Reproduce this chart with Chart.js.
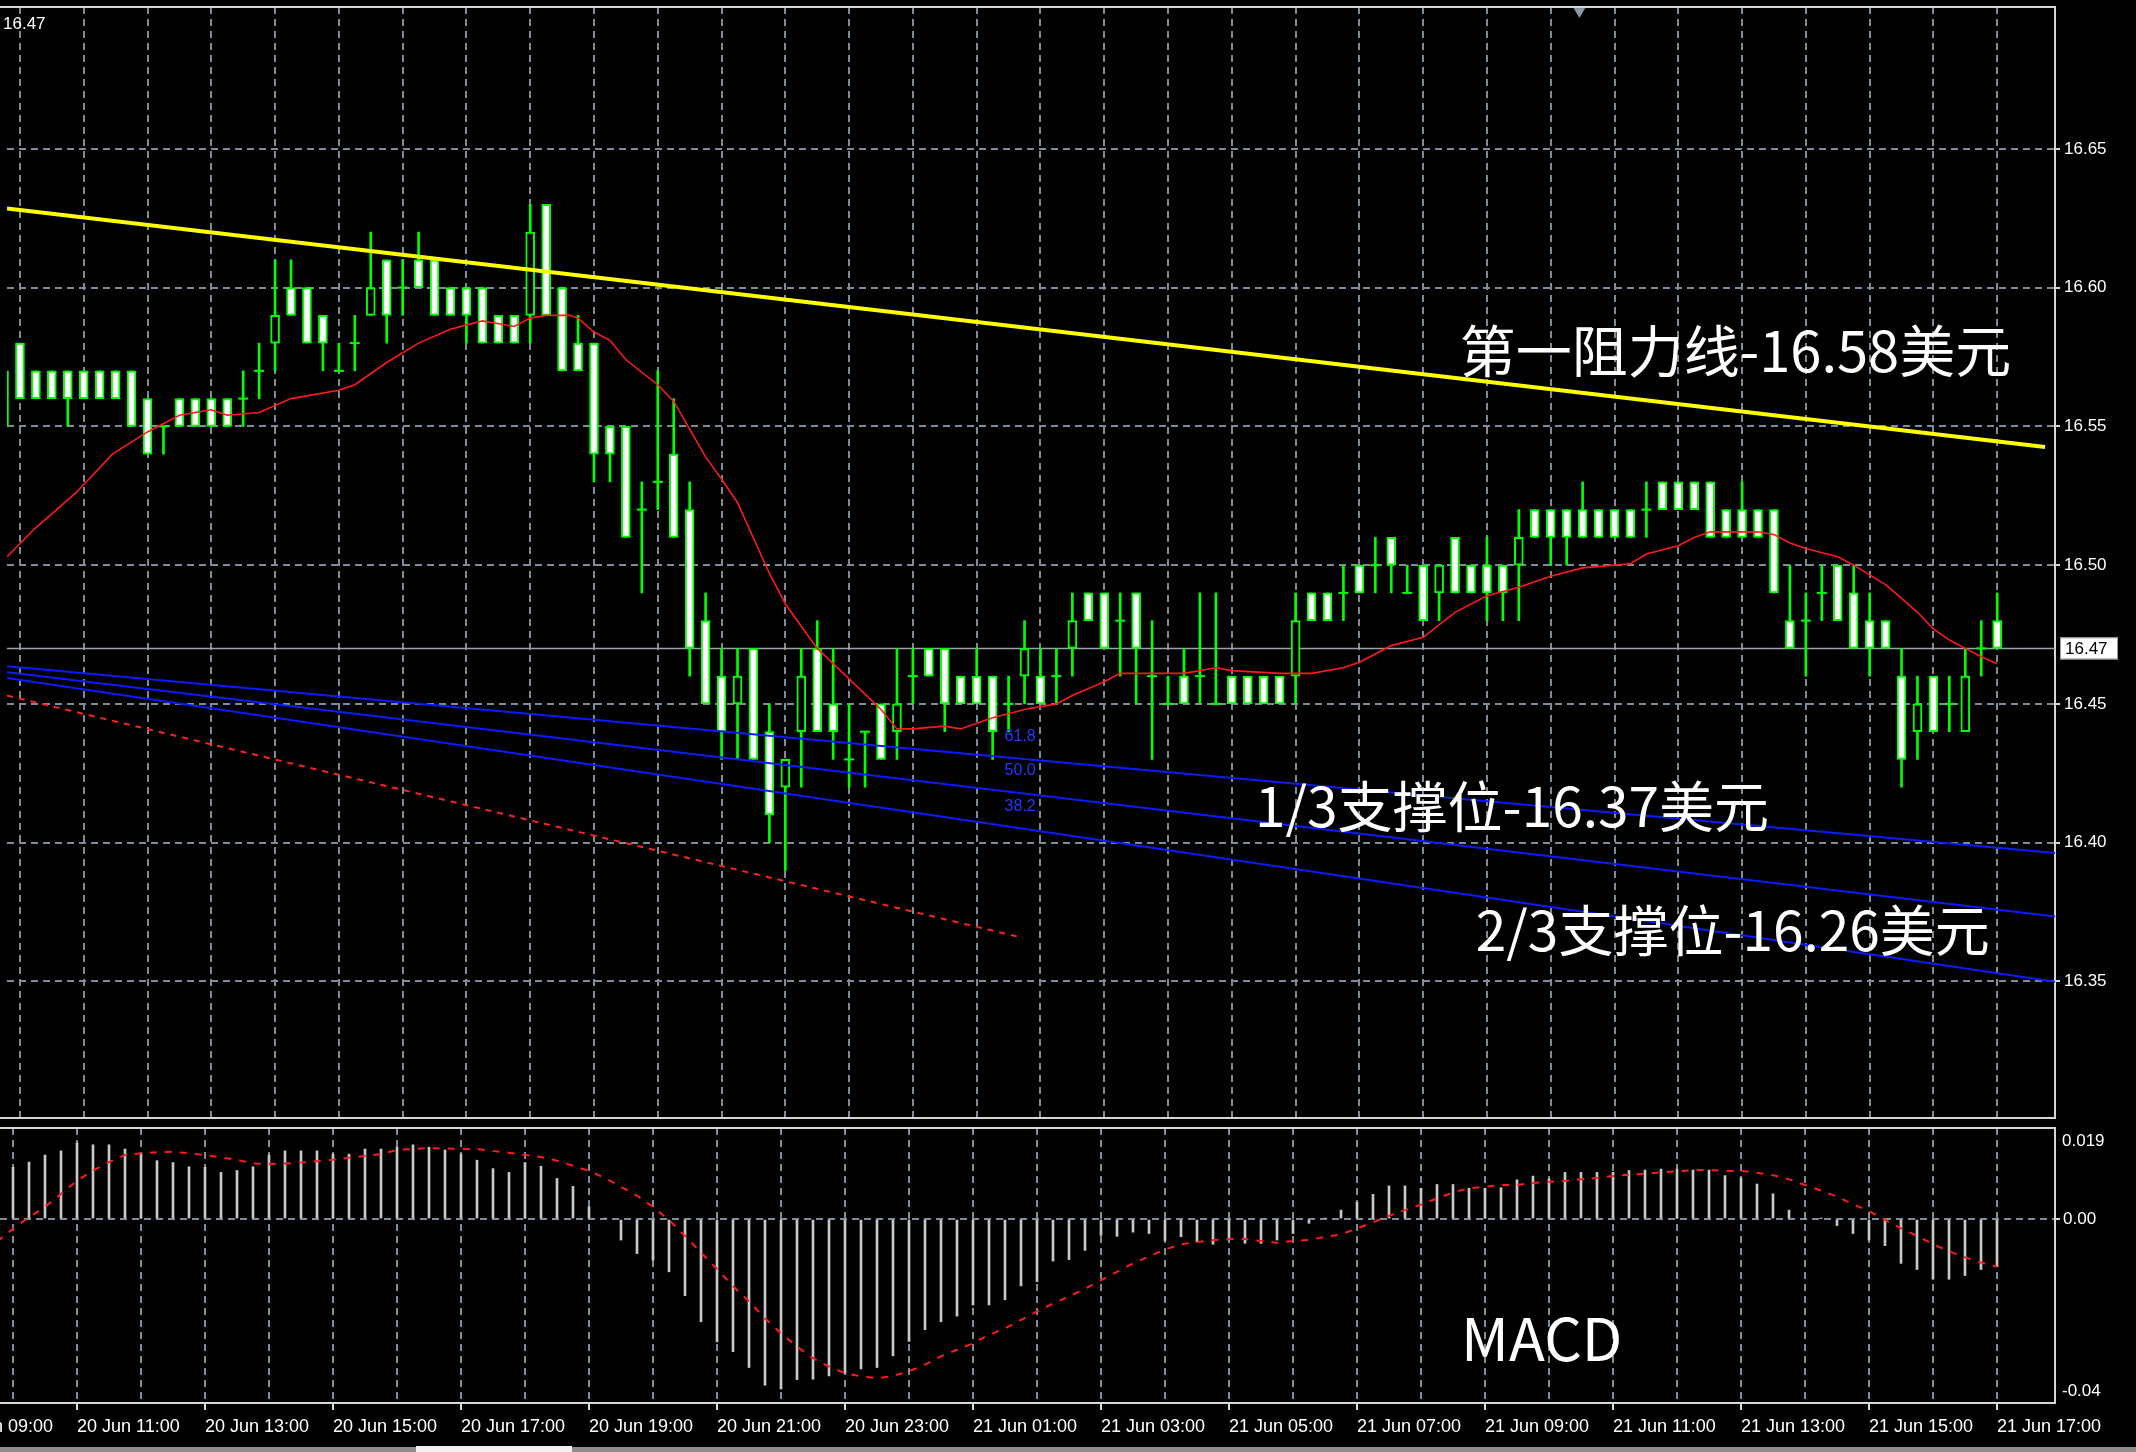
<!DOCTYPE html>
<html>
<head>
<meta charset="utf-8">
<script src="https://cdn.jsdelivr.net/npm/chart.js@4.4.1/dist/chart.umd.min.js"></script>
<style>
  html, body { margin:0; padding:0; background:#000; width:2136px; height:1452px; overflow:hidden; }
  #main { position:absolute; left:0; top:0; }
  #macd { position:absolute; left:0; top:1124px; }
  #tabbar { position:absolute; left:0; top:1447px; width:2136px; height:5px; background:#8e8e8e; }
  #tabsel { position:absolute; left:416px; top:1446px; width:156px; height:6px; background:#f2f2f2; }
</style>
</head>
<body>
<canvas id="main" width="2136" height="1125"></canvas>
<canvas id="macd" width="2136" height="328"></canvas>
<div id="tabbar"></div><div id="tabsel"></div>
<script>
// ---------------- DATA ----------------
// 15-minute candles, index 0 = 20 Jun 09:45 ... index 125 = 21 Jun 17:00
const opens = [
  16.57,16.58,16.57,16.57,16.57,16.57,16.57,16.57,16.57,16.56,
  16.55,16.56,16.56,16.56,16.56,16.56,16.57,16.58,16.60,16.60,
  16.59,16.57,16.58,16.59,16.61,16.60,16.61,16.61,16.60,16.60,
  16.60,16.59,16.59,16.59,16.63,16.60,16.58,16.58,16.55,16.55,
  16.52,16.53,16.54,16.52,16.48,16.46,16.45,16.47,16.44,16.42,
  16.44,16.47,16.45,16.43,16.44,16.45,16.44,16.46,16.47,16.47,
  16.46,16.46,16.46,16.45,16.46,16.46,16.46,16.47,16.49,16.49,
  16.48,16.49,16.46,16.45,16.46,16.46,16.45,16.46,16.46,16.46,
  16.46,16.46,16.49,16.49,16.49,16.50,16.50,16.51,16.49,16.50,
  16.49,16.51,16.50,16.50,16.50,16.50,16.52,16.52,16.52,16.52,
  16.52,16.52,16.52,16.52,16.53,16.53,16.53,16.53,16.52,16.52,
  16.52,16.52,16.48,16.48,16.49,16.50,16.49,16.48,16.48,16.46,
  16.44,16.46,16.45,16.44,16.47,16.48
];
const highs = [
  16.57,16.58,16.57,16.57,16.57,16.57,16.57,16.57,16.57,16.56,
  16.55,16.56,16.56,16.56,16.56,16.57,16.58,16.61,16.61,16.60,
  16.59,16.58,16.59,16.62,16.61,16.61,16.62,16.61,16.60,16.60,
  16.60,16.59,16.59,16.63,16.63,16.60,16.59,16.58,16.55,16.55,
  16.53,16.57,16.56,16.53,16.49,16.47,16.47,16.47,16.45,16.43,
  16.47,16.48,16.47,16.45,16.44,16.45,16.47,16.47,16.47,16.47,
  16.46,16.47,16.46,16.46,16.48,16.47,16.47,16.49,16.49,16.49,
  16.49,16.49,16.48,16.46,16.47,16.49,16.49,16.46,16.46,16.46,
  16.46,16.49,16.49,16.49,16.50,16.50,16.51,16.51,16.50,16.50,
  16.50,16.51,16.50,16.51,16.50,16.52,16.52,16.52,16.52,16.53,
  16.52,16.52,16.52,16.53,16.53,16.53,16.53,16.53,16.52,16.53,
  16.52,16.52,16.50,16.49,16.50,16.50,16.50,16.49,16.48,16.47,
  16.46,16.46,16.46,16.47,16.48,16.49
];
const lows = [
  16.55,16.56,16.56,16.56,16.55,16.56,16.56,16.56,16.55,16.54,
  16.54,16.55,16.55,16.55,16.55,16.55,16.56,16.57,16.59,16.58,
  16.57,16.57,16.57,16.59,16.58,16.59,16.60,16.59,16.59,16.58,
  16.58,16.58,16.58,16.58,16.59,16.57,16.57,16.53,16.53,16.51,
  16.49,16.52,16.51,16.46,16.45,16.43,16.43,16.43,16.40,16.39,
  16.42,16.44,16.43,16.42,16.42,16.43,16.43,16.45,16.46,16.44,
  16.45,16.45,16.43,16.44,16.45,16.45,16.45,16.46,16.48,16.47,
  16.46,16.45,16.43,16.45,16.45,16.45,16.45,16.45,16.45,16.45,
  16.45,16.45,16.48,16.48,16.48,16.49,16.49,16.49,16.49,16.48,
  16.48,16.49,16.49,16.48,16.48,16.48,16.51,16.50,16.50,16.51,
  16.51,16.51,16.51,16.51,16.52,16.52,16.52,16.51,16.51,16.51,
  16.51,16.49,16.47,16.46,16.48,16.48,16.47,16.46,16.47,16.42,
  16.43,16.44,16.44,16.44,16.46,16.47
];
const closes = [
  16.55,16.56,16.56,16.56,16.56,16.56,16.56,16.56,16.55,16.54,
  16.55,16.55,16.55,16.55,16.55,16.56,16.57,16.59,16.59,16.58,
  16.58,16.57,16.58,16.60,16.59,16.60,16.60,16.59,16.59,16.59,
  16.58,16.58,16.58,16.62,16.59,16.57,16.57,16.54,16.54,16.51,
  16.52,16.53,16.51,16.47,16.45,16.44,16.46,16.43,16.41,16.43,
  16.46,16.44,16.44,16.43,16.44,16.43,16.45,16.46,16.46,16.45,
  16.45,16.45,16.44,16.45,16.47,16.45,16.46,16.48,16.48,16.47,
  16.48,16.47,16.46,16.45,16.45,16.46,16.45,16.45,16.45,16.45,
  16.45,16.48,16.48,16.48,16.49,16.49,16.50,16.50,16.49,16.48,
  16.50,16.49,16.49,16.49,16.49,16.51,16.51,16.51,16.51,16.51,
  16.51,16.51,16.51,16.52,16.52,16.52,16.52,16.51,16.51,16.51,
  16.51,16.49,16.47,16.48,16.49,16.48,16.47,16.47,16.47,16.43,
  16.45,16.44,16.45,16.46,16.47,16.47
];

// red moving average, read at these candle positions
const maIdx = [0.19,1.9,4.5,6.8,9,11,13,14,16,18,21,22,24,26,28,30,32,33,34,35.5,
  36,37,38,39,41,42,43,44,45,46,48,49,51,53,55,56,57,59,60,61,
  62,64,66,67,69,70,72,74,76,77,80,82,84,85,86,87,89,91,93,95,
  97,99,101,102,103,105,106,107,108,110,111,112,113,115,116,118,119,120,121,122,
  123,124,125];
const maVal = [16.503,16.513,16.526,16.54,16.548,16.554,16.556,16.554,16.555,16.56,
  16.563,16.565,16.573,16.58,16.585,16.588,16.586,16.589,16.59,16.59,
  16.589,16.584,16.581,16.574,16.565,16.559,16.549,16.539,16.531,16.5225,
  16.497,16.486,16.47,16.459,16.448,16.441,16.441,16.442,16.441,16.443,
  16.445,16.448,16.45,16.453,16.458,16.461,16.461,16.461,16.463,16.462,
  16.461,16.461,16.463,16.465,16.468,16.471,16.474,16.483,16.489,16.492,
  16.496,16.499,16.50,16.5005,16.504,16.507,16.51,16.512,16.512,16.512,
  16.511,16.508,16.506,16.503,16.50,16.493,16.488,16.483,16.477,16.473,
  16.47,16.467,16.4645];

// drawn lines: [startIdx, startPrice, endIdx, endPrice]
const resistanceLine = [0.19, 16.6285, 128.0, 16.5426];
const fibLine618 = [0.19, 16.4636, 128.63, 16.3963];
const fibLine500 = [0.19, 16.4614, 128.63, 16.3734];
const fibLine382 = [0.19, 16.4593, 128.63, 16.3499];
const redDashLine = [0.19, 16.453, 63.9, 16.3657];
const currentPrice = 16.47;

// MACD histogram (index 0..125) and signal line
const macdHist = [null,0.0111,0.0122,0.0137,0.0146,0.0163,0.0159,0.0159,0.0150,0.0141,
  0.0125,0.0121,0.0112,0.0111,0.0100,0.0104,0.0112,0.0137,0.0146,0.0146,
  0.0146,0.0139,0.0139,0.0150,0.0150,0.0154,0.0159,0.0154,0.0148,0.0139,
  0.0126,0.0108,0.0100,0.0121,0.0113,0.0087,0.0070,0.0026,0.0002,-0.0045,
  -0.0074,-0.0088,-0.0113,-0.0164,-0.0220,-0.0263,-0.0284,-0.0318,-0.0356,-0.0364,
  -0.0344,-0.0343,-0.0336,-0.0330,-0.0321,-0.0318,-0.0293,-0.0262,-0.0237,-0.0220,
  -0.0208,-0.0184,-0.0184,-0.0173,-0.0143,-0.0134,-0.0090,-0.0087,-0.0067,-0.0035,
  -0.0037,-0.0028,-0.0031,-0.0046,-0.0038,-0.0049,-0.0054,-0.0045,-0.0052,-0.0052,
  -0.0045,-0.0031,-0.0009,0.0002,0.0019,0.0036,0.0053,0.0071,0.0071,0.0066,
  0.0074,0.0074,0.0066,0.0066,0.0067,0.0084,0.0092,0.0086,0.0100,0.0100,
  0.0100,0.0100,0.0104,0.0105,0.0107,0.0107,0.0105,0.0105,0.0093,0.0088,
  0.0075,0.0054,0.0019,0.0000,0.0001,-0.0014,-0.0031,-0.0045,-0.0057,-0.0095,
  -0.0108,-0.0129,-0.0129,-0.0121,-0.0108,-0.0102];
const macdSignal = [-0.0048,-0.0021,0.0004,0.0026,0.0054,0.0082,0.0104,0.0122,0.0137,0.0141,
  0.0143,0.0144,0.0141,0.0137,0.0132,0.0127,0.0119,0.0118,0.0119,0.0121,
  0.0124,0.0127,0.0131,0.0135,0.0139,0.0148,0.0150,0.0152,0.0151,0.0150,
  0.0150,0.0146,0.0142,0.0137,0.0133,0.0125,0.0114,0.0103,0.0088,0.0069,
  0.0050,0.0026,-0.0002,-0.0036,-0.0072,-0.0107,-0.0144,-0.0176,-0.0213,-0.0245,
  -0.0273,-0.0298,-0.0316,-0.0330,-0.0337,-0.0341,-0.0336,-0.0326,-0.0312,-0.0294,
  -0.0280,-0.0266,-0.0248,-0.0234,-0.0216,-0.0198,-0.0181,-0.0166,-0.0149,-0.0131,
  -0.0113,-0.0095,-0.0080,-0.0065,-0.0054,-0.0049,-0.0045,-0.0043,-0.0043,-0.0047,
  -0.0051,-0.0047,-0.0045,-0.0038,-0.0033,-0.0020,-0.0007,0.0007,0.0019,0.0031,
  0.0044,0.0057,0.0066,0.0069,0.0073,0.0073,0.0077,0.0080,0.0082,0.0085,
  0.0088,0.0092,0.0095,0.0097,0.0100,0.0102,0.0105,0.0105,0.0103,0.0103,
  0.0099,0.0094,0.0085,0.0073,0.0061,0.0048,0.0032,0.0017,-0.0002,-0.0020,
  -0.0036,-0.0054,-0.0069,-0.0082,-0.0093,-0.0102];

// axis tick labels
const priceTicks = [16.35,16.40,16.45,16.50,16.55,16.60,16.65];
const timeLabels = ['20 Jun 09:00','20 Jun 11:00','20 Jun 13:00','20 Jun 15:00','20 Jun 17:00',
  '20 Jun 19:00','20 Jun 21:00','20 Jun 23:00','21 Jun 01:00','21 Jun 03:00','21 Jun 05:00',
  '21 Jun 07:00','21 Jun 09:00','21 Jun 11:00','21 Jun 13:00','21 Jun 15:00','21 Jun 17:00'];
const macdAxisLabels = ['0.019','0.00','-0.04'];

// ---------------- LAYOUT / STYLE ----------------
const X_MIN = 0.1875, X_MAX = 128.625;
const Y_MIN = 16.3008, Y_MAX = 16.7011;
const M_MIN = -0.0394, M_MAX = 0.0195;
const FONT_AXIS = "'Liberation Sans','Arial',sans-serif";
const FONT_TIME = "'Liberation Sans Narrow','Arial Narrow','Liberation Sans',sans-serif";
const FONT_BIG = "'Noto Sans CJK SC','Noto Sans',sans-serif";
const GRID = '#7d8c9b';
const DASH = [7,5];
const FRAME = '#d6d6d6';
const GREEN = '#00ff00';

const hourTicks = [];
for (let v = -3; v <= 125; v += 4) hourTicks.push(v);
const isLabelTick = v => (v + 3) % 8 === 0;

const mainTexts = [
  {text:'第一阻力线-16.58美元', x:91.3, y:16.5772, font:'56px ' + FONT_BIG, color:'#ffffff'},
  {text:'1/3支撑位-16.37美元', x:78.45, y:16.4133, font:'55px ' + FONT_BIG, color:'#ffffff'},
  {text:'2/3支撑位-16.26美元', x:92.3, y:16.3685, font:'55px ' + FONT_BIG, color:'#ffffff'},
  {text:'61.8', x:62.75, y:16.4383, font:'16px ' + FONT_AXIS, color:'#1e3cff'},
  {text:'50.0', x:62.75, y:16.4259, font:'16px ' + FONT_AXIS, color:'#1e3cff'},
  {text:'38.2', x:62.75, y:16.4130, font:'16px ' + FONT_AXIS, color:'#1e3cff'}
];
const macdTexts = [
  {text:'MACD', x:91.5, y:-0.0255, font:'59px ' + FONT_BIG, color:'#ffffff'}
];

// ---------------- BUILD DATASETS ----------------
const wickData = [], bodyData = [], dojiData = [];
for (let i = 0; i < opens.length; i++) {
  wickData.push({x:i, y:[lows[i], highs[i]]});
  if (opens[i] === closes[i]) dojiData.push({x:i, y:opens[i]});
  else bodyData.push({x:i, y:[Math.min(opens[i], closes[i]), Math.max(opens[i], closes[i])]});
}
const maData = maIdx.map((v, k) => ({x:v, y:maVal[k]}));
const seg = a => [{x:a[0], y:a[1]}, {x:a[2], y:a[3]}];
const histData = macdHist.map((v, i) => ({x:i, y:v}));
const sigData = macdSignal.map((v, i) => ({x:i, y:v}));

const textPlugin = {
  id:'texts',
  afterDatasetsDraw(chart) {
    const {ctx, scales} = chart;
    const list = chart.canvas.id === 'main' ? mainTexts : macdTexts;
    ctx.save();
    ctx.textAlign = 'left';
    ctx.textBaseline = 'middle';
    for (const t of list) {
      ctx.font = t.font;
      ctx.fillStyle = t.color;
      ctx.fillText(t.text, scales.x.getPixelForValue(t.x), scales.y.getPixelForValue(t.y));
    }
    ctx.restore();
  }
};

const framePlugin = {
  id:'frame',
  afterDraw(chart) {
    const {ctx, chartArea:a, scales} = chart;
    ctx.save();
    ctx.strokeStyle = FRAME;
    ctx.lineWidth = 2;
    ctx.beginPath();
    ctx.moveTo(0, a.top); ctx.lineTo(a.right, a.top);
    if (chart.canvas.id === 'main') { ctx.moveTo(0, a.bottom); ctx.lineTo(a.right, a.bottom); }
    ctx.stroke();
    ctx.textBaseline = 'middle';
    ctx.textAlign = 'left';
    if (chart.canvas.id === 'main') {
      const y = scales.y.getPixelForValue(currentPrice);
      ctx.fillStyle = '#ffffff';
      ctx.fillRect(a.right + 5, y - 11, 58, 22);
      ctx.strokeStyle = '#9a9a9a'; ctx.lineWidth = 1;
      ctx.strokeRect(a.right + 5.5, y - 10.5, 57, 21);
      ctx.fillStyle = '#000000';
      ctx.font = '17px ' + FONT_AXIS;
      ctx.fillText(currentPrice.toFixed(2), a.right + 10, y + 1);
      ctx.fillStyle = '#ffffff';
      ctx.font = '17px ' + FONT_AXIS;
      ctx.fillText(currentPrice.toFixed(2), a.left - 4, a.top + 17);
    } else {
      ctx.fillStyle = '#ffffff';
      ctx.font = '17px ' + FONT_AXIS;
      ctx.fillText(macdAxisLabels[0], a.right + 7, a.top + 13);
      ctx.fillText(macdAxisLabels[2], a.right + 7, a.bottom - 12);
    }
    ctx.restore();
  }
};

const common = {
  responsive:false, animation:false, devicePixelRatio:1, events:[],
  plugins:{ legend:{display:false}, tooltip:{enabled:false} }
};

// ---------------- MAIN PRICE CHART ----------------
new Chart(document.getElementById('main'), {
  type:'bar',
  data:{ datasets:[
    {type:'line', data:seg([X_MIN, currentPrice, X_MAX, currentPrice]), borderColor:'#9aa3ac', borderWidth:1.5, pointRadius:0, order:20},
    {type:'bar', data:wickData, backgroundColor:GREEN, barThickness:2, grouped:false, order:15},
    {type:'bar', data:bodyData, barThickness:9, grouped:false, order:14,
      borderColor:GREEN, borderWidth:2, borderSkipped:false,
      backgroundColor: c => (c.raw && closes[c.raw.x] < opens[c.raw.x]) ? '#ffffff' : '#000000'},
    {type:'scatter', data:dojiData, pointStyle:'line', pointRadius:5, borderColor:GREEN, borderWidth:2, order:13},
    {type:'line', data:seg(redDashLine), borderColor:'#ff2020', borderWidth:2, borderDash:[6,6], pointRadius:0, order:8},
    {type:'line', data:seg(fibLine618), borderColor:'#0a1cff', borderWidth:2, pointRadius:0, order:7},
    {type:'line', data:seg(fibLine500), borderColor:'#0a1cff', borderWidth:2, pointRadius:0, order:7},
    {type:'line', data:seg(fibLine382), borderColor:'#0a1cff', borderWidth:2, pointRadius:0, order:7},
    {type:'line', data:maData, borderColor:'#ff1a1a', borderWidth:1.6, pointRadius:0, tension:0, order:5},
    {type:'line', data:seg(resistanceLine), borderColor:'#ffff00', borderWidth:4, pointRadius:0, order:4},
    {type:'scatter', data:[{x:98.8, y:16.6996}], pointStyle:'triangle', rotation:180, pointRadius:6,
      backgroundColor:'#8a9aaa', borderColor:'#8a9aaa', clip:false, order:1}
  ]},
  options:Object.assign({}, common, {
    layout:{ padding:{top:3, bottom:4, left:0, right:0} },
    scales:{
      x:{ type:'linear', min:X_MIN, max:X_MAX, offset:false,
        afterBuildTicks: s => { s.ticks = hourTicks.map(v => ({value:v})); },
        afterFit: s => { s.height = 0; s.paddingLeft = 0; s.paddingRight = 0; },
        ticks:{ display:false },
        grid:{ color:GRID, lineWidth:2, drawTicks:false, offset:false },
        border:{ display:false, dash:DASH }
      },
      y:{ type:'linear', position:'right', min:Y_MIN, max:Y_MAX,
        afterBuildTicks: s => { s.ticks = priceTicks.map(v => ({value:v})); },
        afterFit: s => { s.width = 81; s.paddingTop = 0; s.paddingBottom = 0; },
        ticks:{ color:'#ffffff', padding:4, font:{family:FONT_AXIS, size:17}, callback: v => v.toFixed(2) },
        grid:{ color:GRID, lineWidth:2, drawTicks:true, tickLength:5, tickColor:FRAME, tickWidth:2 },
        border:{ display:true, color:FRAME, width:2, dash:DASH }
      }
    }
  }),
  plugins:[textPlugin, framePlugin]
});

// ---------------- MACD CHART ----------------
new Chart(document.getElementById('macd'), {
  type:'bar',
  data:{ datasets:[
    {type:'bar', data:histData, backgroundColor:'#c8c8c8', barThickness:2, grouped:false, order:5},
    {type:'line', data:sigData, borderColor:'#ff1a1a', borderWidth:2, borderDash:[7,8], pointRadius:0, order:1}
  ]},
  options:Object.assign({}, common, {
    layout:{ padding:{top:4, bottom:0, left:0, right:0} },
    scales:{
      x:{ type:'linear', position:'bottom', min:X_MIN, max:X_MAX, offset:false,
        afterBuildTicks: s => { s.ticks = hourTicks.map(v => ({value:v})); },
        afterFit: s => { s.height = 49; s.paddingLeft = 0; s.paddingRight = 0; },
        ticks:{ display:true, autoSkip:false, maxRotation:0, minRotation:0, align:'start',
          color:'#ffffff', padding:6, font:{family:FONT_TIME, size:18},
          callback: v => isLabelTick(v) ? timeLabels[(v + 3) / 8] : '' },
        grid:{ color:GRID, lineWidth:2, drawTicks:true, tickLength:7, tickWidth:2, offset:false,
          tickColor: c => (c.tick && isLabelTick(c.tick.value)) ? FRAME : 'rgba(0,0,0,0)' },
        border:{ display:true, color:FRAME, width:2, dash:DASH }
      },
      y:{ type:'linear', position:'right', min:M_MIN, max:M_MAX,
        afterBuildTicks: s => { s.ticks = [{value:0}]; },
        afterFit: s => { s.width = 81; s.paddingTop = 0; s.paddingBottom = 0; },
        ticks:{ color:'#ffffff', padding:3, font:{family:FONT_AXIS, size:17}, callback: () => macdAxisLabels[1] },
        grid:{ color:GRID, lineWidth:2, drawTicks:true, tickLength:5, tickColor:FRAME, tickWidth:2 },
        border:{ display:true, color:FRAME, width:2, dash:DASH }
      }
    }
  }),
  plugins:[textPlugin, framePlugin]
});
</script>
</body>
</html>
